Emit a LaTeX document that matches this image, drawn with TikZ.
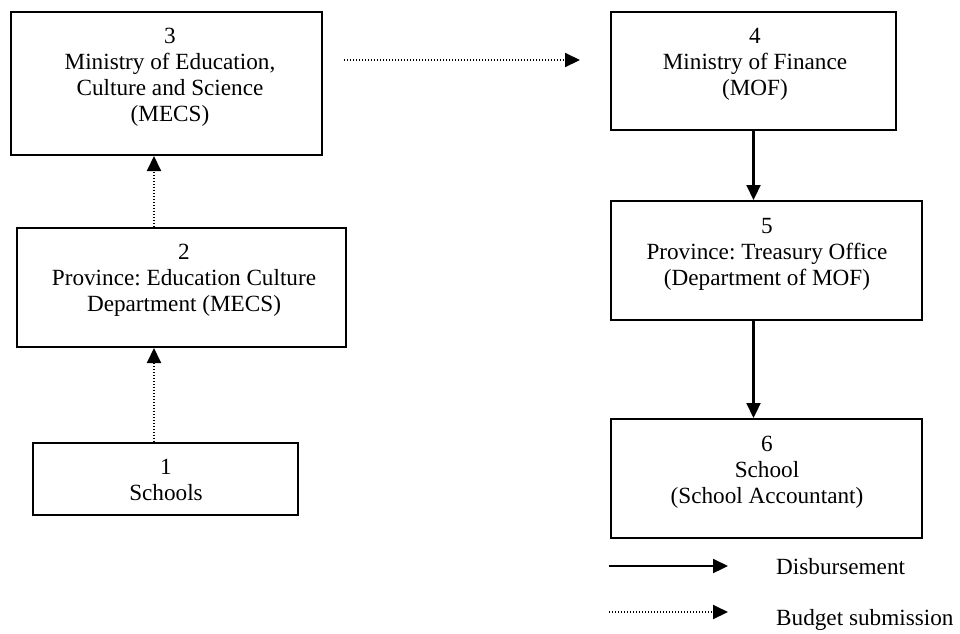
\documentclass[tikz,border=0pt]{standalone}
\usepackage{fontspec}
\setmainfont{Liberation Serif}
\usetikzlibrary{arrows.meta,calc}
\frenchspacing
\begin{document}
\begin{tikzpicture}[x=1pt,y=-1pt,
  boxnode/.style={draw=black,line width=2pt,inner sep=0pt},
  txt/.style={align=center,inner sep=0pt,font=\fontsize{23.2}{26}\selectfont},
  solidarrow/.style={line width=2.2pt,-{Triangle[length=15pt,width=14pt]}},
  dottedarrow/.style={line width=2pt,dash pattern=on 1.4pt off 1.6pt,-{Triangle[length=15pt,width=14pt]}},
  lgtxt/.style={anchor=west,inner sep=0pt,font=\fontsize{23.2}{26}\selectfont}]
\useasboundingbox (0,0) rectangle (960,633);
% boxes
\node[boxnode,minimum width=265pt,minimum height=72pt] (b1) at (165.5,479) {};
\node[boxnode,minimum width=329pt,minimum height=119pt] (b2) at (181.5,287.5) {};
\node[boxnode,minimum width=311pt,minimum height=143pt] (b3) at (166.5,83.5) {};
\node[boxnode,minimum width=285pt,minimum height=118pt] (b4) at (753.5,71) {};
\node[boxnode,minimum width=311pt,minimum height=119pt] (b5) at (766.5,260.5) {};
\node[boxnode,minimum width=311pt,minimum height=119pt] (b6) at (766.5,478.5) {};
% texts
\node[txt] (t1) at (166,480) {1\\Schools};
\node[txt] (t2) at (184,280) {2\\Province: Education Culture\\Department (MECS)};
\node[txt] (t3) at (170,77) {3\\Ministry of Education,\\Culture and Science\\(MECS)};
\node[txt] (t4) at (755,64) {4\\Ministry of Finance\\(MOF)};
\node[txt] (t5) at (767,254) {5\\Province: Treasury Office\\(Department of MOF)};
\node[txt] (t6) at (767,472) {6\\School\\(School Accountant)};
% connectors
\draw[dottedarrow] (154,0 |- b1.north) -- (154,0 |- b2.south);
\draw[dottedarrow] (154,0 |- b2.north) -- (154,0 |- b3.south);
\coordinate (s34) at (344,60);
\coordinate (e34) at (580,60);
\draw[dottedarrow] (s34) -- (e34);
\draw[solidarrow] (b4.south) -- (b4.south |- b5.north);
\draw[solidarrow] (b4.south |- b5.south) -- (b4.south |- b6.north);
% legend
\coordinate (l1s) at (609,566);
\coordinate (l1e) at (728,566);
\coordinate (l2s) at (609,612);
\coordinate (l2e) at (728,612);
\draw[solidarrow] (l1s) -- (l1e);
\draw[dottedarrow] (l2s) -- (l2e);
\node[lgtxt] (lg1) at (776,567) {Disbursement};
\node[lgtxt] (lg2) at (776,620) {Budget submission};
\end{tikzpicture}
\end{document}
